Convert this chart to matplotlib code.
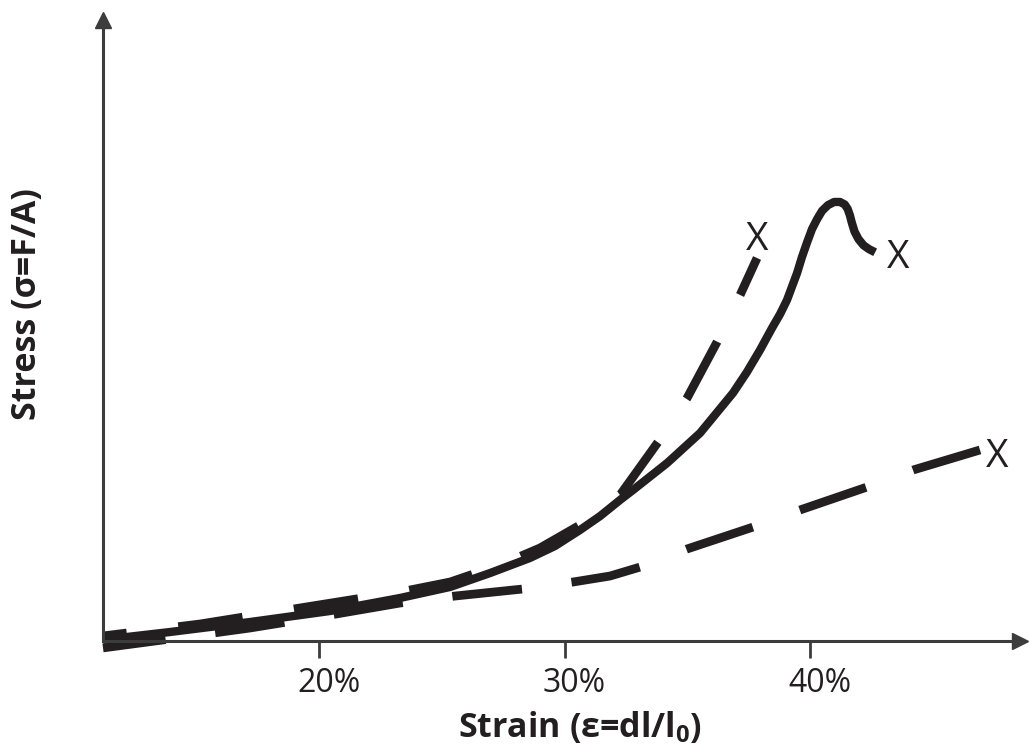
import matplotlib
matplotlib.use("Agg")
import matplotlib.pyplot as plt
import matplotlib.transforms as mtransforms

plt.rcParams["font.family"] = ["Open Sans", "DejaVu Sans"]
plt.rcParams["mathtext.fontset"] = "custom"
plt.rcParams["mathtext.rm"] = "Open Sans"
plt.rcParams["mathtext.bf"] = "Open Sans:bold"
plt.rcParams["lines.scale_dashes"] = False

INK = "#231f20"
AXIS = "#3c3c3c"

# strain (%) / stress (arbitrary units)
solid_x = [11.2, 13.93, 17.19, 20.45, 23.30, 25.34, 26.97, 28.59, 29.61, 30.63,
           31.45, 32.26, 32.79, 34.18, 35.52, 36.86, 37.43, 37.96, 38.45, 38.78,
           39.06, 39.47, 39.67, 39.88, 40.08, 40.29, 40.49, 40.73, 40.98, 41.22,
           41.41, 41.53, 41.62, 41.70, 41.81, 41.97, 42.18, 42.40, 42.65]
solid_y = [0.2, 1.43, 3.02, 4.77, 6.84, 8.59, 10.81, 13.20, 15.10, 17.65,
           19.87, 22.42, 24.01, 28.30, 33.07, 39.43, 42.77, 46.26, 49.76, 51.99,
           54.21, 58.5, 61.05, 63.4, 65.5, 67.1, 68.4, 69.3, 69.8, 69.8,
           69.4, 68.7, 67.7, 66.5, 65.1, 63.9, 62.9, 62.3, 61.8]

steep_x = [11.2, 15.15, 19.23, 23.30, 25.34, 27.37, 29.0, 30.63, 32.26, 33.81,
           34.99, 36.21, 37.15, 37.84]
steep_y = [0.8, 2.70, 5.25, 7.79, 9.38, 12.08, 14.79, 18.44, 23.21, 31.64,
           38.63, 47.54, 55.01, 60.89]

shallow_x = [11.2, 13.93, 17.19, 20.45, 23.30, 25.54, 28.31, 30.35, 31.85, 33.08,
             34.99, 37.68, 39.59, 42.32, 44.20, 46.92]
shallow_y = [-1.1, 0.32, 2.07, 4.13, 6.04, 7.15, 8.27, 9.38, 10.33, 11.76,
             14.63, 18.12, 20.83, 24.48, 27.19, 30.37]

# failure marks
fail_x = [37.84, 43.58, 47.62]
fail_y = [63.75, 60.89, 29.25]

ticks = [20, 30, 40]
tick_labels = ["20%", "30%", "40%"]

fig = plt.figure(figsize=(10.29, 7.51), dpi=100)
ax = fig.add_axes([103 / 1029, 110 / 751, (1020 - 103) / 1029, (641 - 20) / 751])
ax.set_xlim(11.2, 48.55)
ax.set_ylim(0, 98.73)

ax.plot(solid_x, solid_y, color=INK, lw=6, solid_joinstyle="round",
        solid_capstyle="butt", clip_on=False)
# dashed curves drawn from their broken end so the dash pattern lines up there
ax.plot(steep_x[::-1], steep_y[::-1], color=INK, lw=6.3,
        linestyle=(17.5, (46.8, 37.4)), clip_on=False)
ax.plot(shallow_x[::-1], shallow_y[::-1], color=INK, lw=6.3,
        linestyle=(0, (50.4, 36)), clip_on=False)

for fx, fy in zip(fail_x, fail_y):
    ax.text(fx, fy, "X", fontsize=28, color=INK, ha="center", va="center")

for side in ["top", "right"]:
    ax.spines[side].set_visible(False)
for side in ["left", "bottom"]:
    ax.spines[side].set_color(AXIS)
    ax.spines[side].set_linewidth(2.2)

ax.plot(1, 0, ">", color=AXIS, ms=11, transform=ax.transAxes, clip_on=False)
ax.plot(0, 1, "^", color=AXIS, ms=11, transform=ax.transAxes, clip_on=False)

ax.set_xticks(ticks)
ax.set_xticklabels(tick_labels)
ax.set_yticks([])
ax.tick_params(axis="x", direction="out", length=12, width=2, color=AXIS,
               pad=7, labelsize=23, labelcolor=INK)
shift = mtransforms.ScaledTranslation(10 / 100, 0, fig.dpi_scale_trans)
for lab in ax.get_xticklabels():
    lab.set_transform(lab.get_transform() + shift)

fig.text(580 / 1029, 1 - 727 / 751, r"Strain (ε=dl/l$_\mathbf{0}$)",
         fontsize=24.5, fontweight="bold", color=INK, ha="center", va="center")
fig.text(27 / 1029, 1 - 304 / 751, "Stress (σ=F/A)", fontsize=24.5,
         fontweight="bold", color=INK, ha="center", va="center", rotation=90)

fig.savefig("out.png", dpi=100)
